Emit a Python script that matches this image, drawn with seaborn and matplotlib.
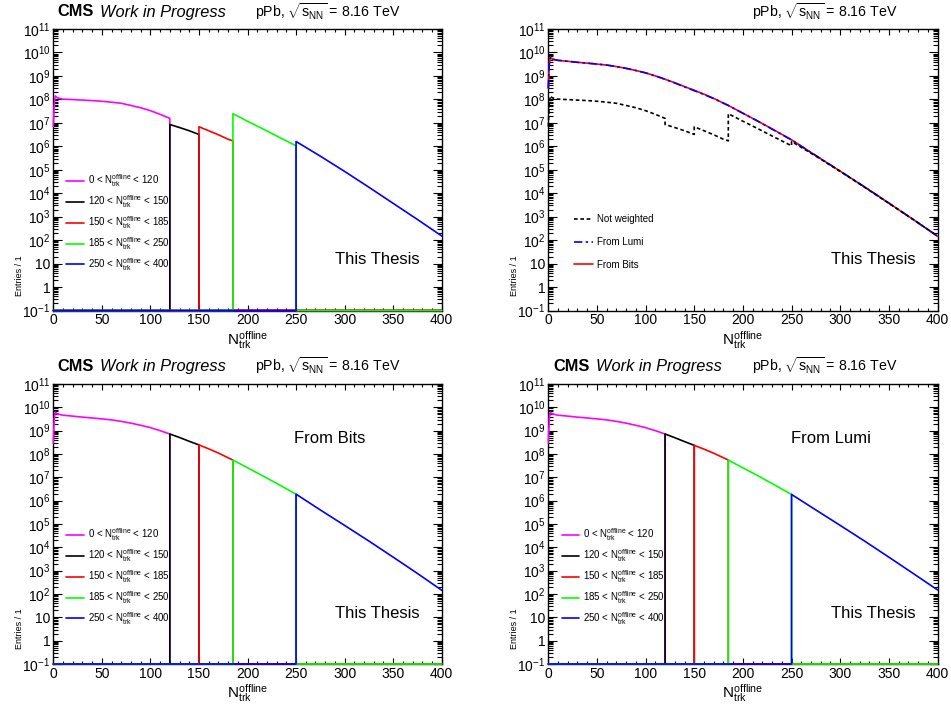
import numpy as np
import pandas as pd
import seaborn as sns
import matplotlib.pyplot as plt
from matplotlib.ticker import FixedLocator, FixedFormatter, MultipleLocator, LogLocator, NullFormatter

# Multiplicity ranges (N_trk^offline) and their colours
NTRK = r"$\mathrm{N}_{\mathrm{trk}}^{\mathrm{offline}}$"
seg_edges = [0, 120, 150, 185, 250, 400]
seg_labels = ["0 < " + NTRK + " < 120",
              "120 < " + NTRK + " < 150",
              "150 < " + NTRK + " < 185",
              "185 < " + NTRK + " < 250",
              "250 < " + NTRK + " < 400"]
seg_colors = ["#ff00ff", "#000000", "#ff0000", "#00ff00", "#0000ff"]

# sampled bin centres per range
x_seg1 = [0, 1, 2, 4, 10, 20, 30, 40, 50, 60, 70, 80, 90, 100, 110, 120]
x_seg2 = [120, 130, 140, 150]
x_seg3 = [150, 160, 170, 180, 185]
x_seg4 = [185, 200, 215, 230, 250]
x_seg5 = [250, 275, 300, 325, 350, 375, 400]

# not weighted entries
raw_seg1 = [7.0e6, 6.0e7, 1.4e8, 1.17e8, 1.02e8, 9.8e7, 9.3e7, 8.9e7, 8.3e7,
            7.6e7, 6.8e7, 5.5e7, 4.4e7, 3.3e7, 2.3e7, 1.55e7]
raw_seg2 = [8.5e6, 6.3e6, 4.6e6, 3.2e6]
raw_seg3 = [6.8e6, 4.6e6, 3.1e6, 2.0e6, 1.7e6]
raw_seg4 = [2.45e7, 1.17e7, 5.75e6, 2.75e6, 1.05e6]
raw_seg5 = [1.6e6, 3.8e5, 8.5e4, 1.8e4, 3.7e3, 7.6e2, 1.5e2]

# weighted from trigger bits
bits_seg1 = [3.0e8, 3.2e9, 6.2e9, 5.2e9, 4.6e9, 4.2e9, 3.8e9, 3.5e9, 3.2e9,
             2.9e9, 2.5e9, 2.1e9, 1.7e9, 1.35e9, 1.0e9, 7.2e8]
bits_seg2 = [7.2e8, 5.1e8, 3.5e8, 2.45e8]
bits_seg3 = [2.45e8, 1.66e8, 1.1e8, 6.9e7, 5.5e7]
bits_seg4 = [5.5e7, 2.57e7, 1.2e7, 5.5e6, 1.9e6]
bits_seg5 = [1.9e6, 4.0e5, 8.7e4, 1.86e4, 3.8e3, 7.6e2, 1.45e2]

# weighted from luminosity
lumi_seg1 = [3.0e8, 3.1e9, 6.2e9, 5.2e9, 4.6e9, 4.2e9, 3.8e9, 3.5e9, 3.2e9,
             2.9e9, 2.5e9, 2.1e9, 1.7e9, 1.35e9, 1.0e9, 7.2e8]
lumi_seg2 = [7.2e8, 5.0e8, 3.4e8, 2.35e8]
lumi_seg3 = [2.35e8, 1.62e8, 1.08e8, 6.9e7, 5.5e7]
lumi_seg4 = [5.5e7, 2.55e7, 1.2e7, 5.4e6, 1.85e6]
lumi_seg5 = [1.85e6, 4.0e5, 8.7e4, 1.86e4, 3.8e3, 7.6e2, 1.5e2]

x_segs = [x_seg1, x_seg2, x_seg3, x_seg4, x_seg5]
raw_segs = [raw_seg1, raw_seg2, raw_seg3, raw_seg4, raw_seg5]
bits_segs = [bits_seg1, bits_seg2, bits_seg3, bits_seg4, bits_seg5]
lumi_segs = [lumi_seg1, lumi_seg2, lumi_seg3, lumi_seg4, lumi_seg5]

xtick_values = [0, 50, 100, 150, 200, 250, 300, 350, 400]
ytick_values = [1e-1, 1, 10, 1e2, 1e3, 1e4, 1e5, 1e6, 1e7, 1e8, 1e9, 1e10, 1e11]
ytick_labels = [r"$10^{-1}$", "1", "10", r"$10^{2}$", r"$10^{3}$", r"$10^{4}$", r"$10^{5}$",
                r"$10^{6}$", r"$10^{7}$", r"$10^{8}$", r"$10^{9}$", r"$10^{10}$", r"$10^{11}$"]
YMIN, YMAX = 1e-1, 1e11
LW = 1.2

sns.set_theme(style="ticks", rc={"axes.edgecolor": "black", "text.color": "black",
                                 "xtick.color": "black", "ytick.color": "black",
                                 "axes.labelcolor": "black"})
plt.rcParams['font.family'] = ['Liberation Sans', 'DejaVu Sans']
plt.rcParams['mathtext.fontset'] = 'custom'
plt.rcParams['mathtext.rm'] = 'Liberation Sans'
plt.rcParams['mathtext.it'] = 'Liberation Sans:italic'
plt.rcParams['mathtext.bf'] = 'Liberation Sans:bold'

W, H = 951, 706
fig = plt.figure(figsize=(W / 100, H / 100), dpi=100)


def px_axes(l, t, r, b):
    return fig.add_axes([l / W, 1 - b / H, (r - l) / W, (b - t) / H])


def ftext(x, y, s, **kw):
    fig.text(x / W, 1 - y / H, s, **kw)


def style_axes(ax):
    ax.set_yscale("log")
    ax.set_xlim(0, 400)
    ax.set_ylim(YMIN, YMAX)
    ax.xaxis.set_major_locator(FixedLocator(xtick_values))
    ax.xaxis.set_minor_locator(MultipleLocator(10))
    ax.yaxis.set_major_locator(FixedLocator(ytick_values))
    ax.yaxis.set_major_formatter(FixedFormatter(ytick_labels))
    ax.yaxis.set_minor_locator(LogLocator(base=10, subs=np.arange(2, 10), numticks=100))
    ax.yaxis.set_minor_formatter(NullFormatter())
    ax.tick_params(which="both", direction="in", top=True, right=True, width=0.8, labelsize=10)
    ax.tick_params(axis="x", which="major", length=4.5, pad=2)
    ax.tick_params(axis="x", which="minor", length=2.3)
    ax.tick_params(axis="y", which="major", length=6.5, pad=2)
    ax.tick_params(axis="y", which="minor", length=3.5)
    for s in ax.spines.values():
        s.set_linewidth(1.0)
        s.set_color("black")
    ax.set_xlabel(NTRK, fontsize=11)
    ax.xaxis.set_label_coords(0.5, -0.066, transform=ax.transAxes)
    ax.xaxis.label.set_va("top")
    ax.set_ylabel("Entries / 1", fontsize=6.5)
    ax.yaxis.set_label_coords(-0.075, 0.125, transform=ax.transAxes)
    ax.text(0.835, 0.18, "This Thesis", transform=ax.transAxes, fontsize=12,
            ha="center", va="center")


def draw_line(ax, xs, ys, **kw):
    df = pd.DataFrame({"x": xs, "y": np.clip(np.asarray(ys, float), YMIN, None)})
    sns.lineplot(data=df, x="x", y="y", estimator=None, sort=False, ax=ax,
                 clip_on=False, zorder=3, **kw)


def draw_segments(ax, segs, x_leg):
    for i, ys in enumerate(segs):
        lo, hi = seg_edges[i], seg_edges[i + 1]
        xs = list(x_segs[i])
        vals = list(ys)
        if lo > 0:
            xs = [0, lo] + xs
            vals = [0, 0] + vals
        if hi < 400:
            xs = xs + [hi, 400]
            vals = vals + [0, 0]
        draw_line(ax, xs, vals, color=seg_colors[i], lw=LW, label=seg_labels[i])
    ax.legend(loc="center left", bbox_to_anchor=(x_leg, 0.312), frameon=False, fontsize=7,
              handlelength=1.8, handletextpad=0.45, labelspacing=0.42,
              borderpad=0, borderaxespad=0)


def concat(segs):
    xs, ys = [], []
    for i, v in enumerate(segs):
        xs += list(x_segs[i])
        ys += list(v)
    return xs, ys


def header(y_base, x_cms, x_ppb, cms=True):
    if cms:
        ftext(x_cms, y_base, "CMS", fontsize=11.8, fontweight="bold", va="baseline")
        ftext(x_cms + 43, y_base, "Work in Progress", fontsize=11.8, style="italic", va="baseline")
    ftext(x_ppb, y_base, r"pPb, $\sqrt{\mathrm{s}_{\mathrm{NN}}}$ = 8.16 TeV", fontsize=10.2,
          va="baseline")


# Top left: not weighted, per range
ax1 = px_axes(53.3, 29, 441.7, 310.5)
style_axes(ax1)
draw_segments(ax1, raw_segs, 0.033)
header(16.5, 57, 255)

# Top right: comparison of weightings
ax2 = px_axes(548.3, 29, 937.5, 310.5)
style_axes(ax2)
xb, yb = concat(bits_segs)
xl, yl = concat(lumi_segs)
xr, yr = concat(raw_segs)
draw_line(ax2, xb, yb, color="#ff0000", lw=LW, label="From Bits")
draw_line(ax2, xl, yl, color="#0000ff", lw=LW, linestyle=(0, (5, 2, 1.5, 2)), label="From Lumi")
draw_line(ax2, xr, yr, color="black", lw=LW, linestyle=(0, (2.2, 1.6)), label="Not weighted")
h, l = ax2.get_legend_handles_labels()
order = [2, 1, 0]
ax2.legend([h[i] for i in order], [l[i] for i in order], loc="center left",
           bbox_to_anchor=(0.066, 0.243), frameon=False, fontsize=7, handlelength=2.0,
           handletextpad=0.35, labelspacing=1.3, borderpad=0, borderaxespad=0)
header(16.5, 553, 752, cms=False)

# Bottom left: from bits, per range
ax3 = px_axes(53.3, 384, 441.7, 664)
style_axes(ax3)
draw_segments(ax3, bits_segs, 0.033)
ax3.text(0.712, 0.805, "From Bits", transform=ax3.transAxes, fontsize=12, ha="center", va="center")
header(371, 57, 255)

# Bottom right: from lumi, per range
ax4 = px_axes(548.3, 384, 937.5, 664)
style_axes(ax4)
draw_segments(ax4, lumi_segs, 0.034)
ax4.text(0.727, 0.805, "From Lumi", transform=ax4.transAxes, fontsize=12, ha="center", va="center")
header(371, 553, 752)

fig.savefig("out.png", dpi=100)
